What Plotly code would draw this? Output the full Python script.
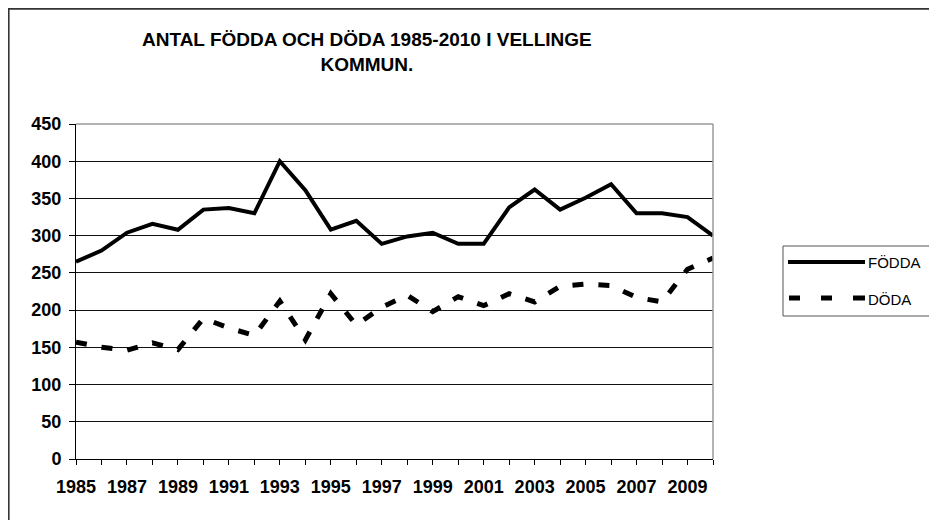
import plotly.graph_objects as go

years = list(range(1985, 2011))
fodda = [265, 280, 304, 316, 308, 335, 337, 330, 400, 361, 308, 320, 289, 299, 304,
         289, 289, 338, 362, 335, 351, 369, 330, 330, 325, 300]
doda = [157, 150, 146, 156, 147, 189, 176, 166, 212, 160, 222, 180, 204, 220, 198,
        218, 206, 222, 211, 232, 235, 233, 217, 211, 255, 270]
series_names = ["FÖDDA", "DÖDA"]
y_ticks = [0, 50, 100, 150, 200, 250, 300, 350, 400, 450]
x_ticktext = [str(y) if (y - 1985) % 2 == 0 and y < 2010 else "" for y in years]
title_text = "ANTAL FÖDDA OCH DÖDA 1985-2010 I VELLINGE<br>KOMMUN."

OFF = 8  # page body margin
W, H = 937 - OFF, 520 - OFF
# plot area in page px
L, R, T, B = 76, 713, 124, 459


def px(x):
    return (x - L) / (R - L)


def py(y):
    return (B - y) / (B - T)


fig = go.Figure()
fig.add_trace(go.Scatter(x=years, y=fodda, mode="lines", name=series_names[0],
                         line=dict(color="black", width=4), showlegend=False))
fig.add_trace(go.Scatter(x=years, y=doda, mode="lines", name=series_names[1],
                         line=dict(color="black", width=5, dash="11px,15px"),
                         showlegend=False))

font_main = "Liberation Sans, Arial, sans-serif"

fig.update_layout(
    width=W, height=H,
    margin=dict(l=L - OFF, r=937 - R, t=T - OFF, b=520 - B, pad=0),
    paper_bgcolor="white", plot_bgcolor="white",
    showlegend=False,
    xaxis=dict(range=[1985, 2010], tickmode="array", tickvals=years, ticktext=x_ticktext,
               ticks="outside", ticklen=5, tickcolor="black", showgrid=False,
               showline=True, linecolor="black", linewidth=1, zeroline=False,
               ticklabelstandoff=6,
               tickfont=dict(family=font_main, size=18, color="black", weight="bold")),
    yaxis=dict(range=[0, 450], tickmode="array", tickvals=y_ticks,
               ticks="outside", ticklen=6, tickcolor="black",
               showgrid=True, gridcolor="#111", gridwidth=1,
               showline=True, linecolor="black", linewidth=1, zeroline=False,
               ticklabelstandoff=4,
               tickfont=dict(family=font_main, size=18, color="black", weight="bold")),
)

shapes = []
# plot area border (top & right) in gray
shapes.append(dict(type="line", xref="paper", yref="paper", x0=0, x1=1, y0=1, y1=1,
                   line=dict(color="#9a9a9a", width=1.5)))
shapes.append(dict(type="line", xref="paper", yref="paper", x0=1, x1=1, y0=0, y1=1,
                   line=dict(color="#9a9a9a", width=1.5)))
# outer chart frame (left & top visible)
shapes.append(dict(type="line", xref="paper", yref="paper", x0=px(8.6), x1=px(8.6),
                   y0=py(8), y1=py(525), line=dict(color="#333", width=2)))
shapes.append(dict(type="line", xref="paper", yref="paper", x0=px(7.6), x1=px(945),
                   y0=py(8.8), y1=py(8.8), line=dict(color="#333", width=2)))
# legend box
shapes.append(dict(type="rect", xref="paper", yref="paper", x0=px(783), x1=px(933),
                   y0=py(316), y1=py(246), line=dict(color="#555", width=1),
                   fillcolor="white"))
shapes.append(dict(type="line", xref="paper", yref="paper", x0=px(788), x1=px(865),
                   y0=py(262), y1=py(262), line=dict(color="black", width=4)))
for a, b in [(789, 800), (821, 832), (853, 865)]:
    shapes.append(dict(type="line", xref="paper", yref="paper", x0=px(a), x1=px(b),
                       y0=py(298), y1=py(298), line=dict(color="black", width=5)))

annotations = [
    dict(text=title_text, xref="paper", yref="paper", x=px(367), y=py(52),
         xanchor="center", yanchor="middle", showarrow=False, align="center",
         font=dict(family=font_main, size=19, color="black", weight="bold")),
    dict(text=series_names[0], xref="paper", yref="paper", x=px(866), y=py(263),
         xanchor="left", yanchor="middle", showarrow=False,
         font=dict(family=font_main, size=15, color="black")),
    dict(text=series_names[1], xref="paper", yref="paper", x=px(866), y=py(299),
         xanchor="left", yanchor="middle", showarrow=False,
         font=dict(family=font_main, size=15, color="black")),
]
fig.update_layout(shapes=shapes, annotations=annotations)

fig.write_html("out.html")
